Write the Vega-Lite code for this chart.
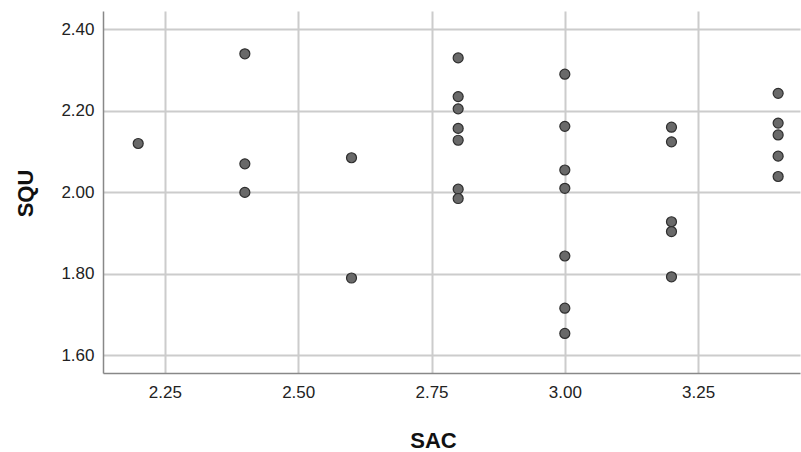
{
  "$schema": "https://vega.github.io/schema/vega-lite/v6.json",
  "autosize": {"type": "none"},
  "width": 697,
  "height": 362,
  "padding": {"left": 103, "top": 11, "right": 1, "bottom": 79},
  "background": "white",
  "config": {"view": {"stroke": null}},
  "data": {"values": [
    {"SAC": 2.2, "SQU": 2.12},
    {"SAC": 2.4, "SQU": 2.34},
    {"SAC": 2.4, "SQU": 2.07},
    {"SAC": 2.4, "SQU": 2.0},
    {"SAC": 2.6, "SQU": 2.085},
    {"SAC": 2.6, "SQU": 1.79},
    {"SAC": 2.8, "SQU": 2.33},
    {"SAC": 2.8, "SQU": 2.235},
    {"SAC": 2.8, "SQU": 2.205},
    {"SAC": 2.8, "SQU": 2.157},
    {"SAC": 2.8, "SQU": 2.128},
    {"SAC": 2.8, "SQU": 2.008},
    {"SAC": 2.8, "SQU": 1.985},
    {"SAC": 3.0, "SQU": 2.29},
    {"SAC": 3.0, "SQU": 2.162},
    {"SAC": 3.0, "SQU": 2.055},
    {"SAC": 3.0, "SQU": 2.01},
    {"SAC": 3.0, "SQU": 1.844},
    {"SAC": 3.0, "SQU": 1.716},
    {"SAC": 3.0, "SQU": 1.654},
    {"SAC": 3.2, "SQU": 2.16},
    {"SAC": 3.2, "SQU": 2.124},
    {"SAC": 3.2, "SQU": 1.928},
    {"SAC": 3.2, "SQU": 1.904},
    {"SAC": 3.2, "SQU": 1.793},
    {"SAC": 3.4, "SQU": 2.243},
    {"SAC": 3.4, "SQU": 2.17},
    {"SAC": 3.4, "SQU": 2.141},
    {"SAC": 3.4, "SQU": 2.089},
    {"SAC": 3.4, "SQU": 2.039}
  ]},
  "mark": {"type": "point", "filled": true, "fill": "#696969", "stroke": "#2e2e2e", "strokeWidth": 1.2, "opacity": 1, "size": 100},
  "encoding": {
    "x": {
      "field": "SAC", "type": "quantitative",
      "scale": {"domain": [2.134, 3.441], "nice": false, "zero": false},
      "axis": {
        "title": "SAC", "values": [2.25, 2.5, 2.75, 3.0, 3.25], "format": ".2f",
        "ticks": false, "labelPadding": 11, "labelFont": "Liberation Sans", "labelFontSize": 17, "labelColor": "#222222",
        "domainColor": "#888888", "domainWidth": 1.5,
        "grid": true, "gridColor": "#cccccc", "gridWidth": 2,
        "titleFont": "Liberation Sans", "titleFontSize": 22, "titleFontWeight": "bold", "titleColor": "#111111",
        "titleX": 330, "titleY": 74, "titleBaseline": "alphabetic", "titleAlign": "center"
      }
    },
    "y": {
      "field": "SQU", "type": "quantitative",
      "scale": {"domain": [1.557, 2.445], "nice": false, "zero": false},
      "axis": {
        "title": "SQU", "values": [1.6, 1.8, 2.0, 2.2, 2.4], "format": ".2f",
        "ticks": false, "labelPadding": 9, "labelFont": "Liberation Sans", "labelFontSize": 17, "labelColor": "#222222",
        "domainColor": "#888888", "domainWidth": 1.5,
        "grid": true, "gridColor": "#cccccc", "gridWidth": 2,
        "titleFont": "Liberation Sans", "titleFontSize": 22, "titleFontWeight": "bold", "titleColor": "#111111",
        "titleAngle": -90, "titleX": -71, "titleY": 182, "titleBaseline": "alphabetic", "titleAlign": "center"
      }
    }
  }
}
